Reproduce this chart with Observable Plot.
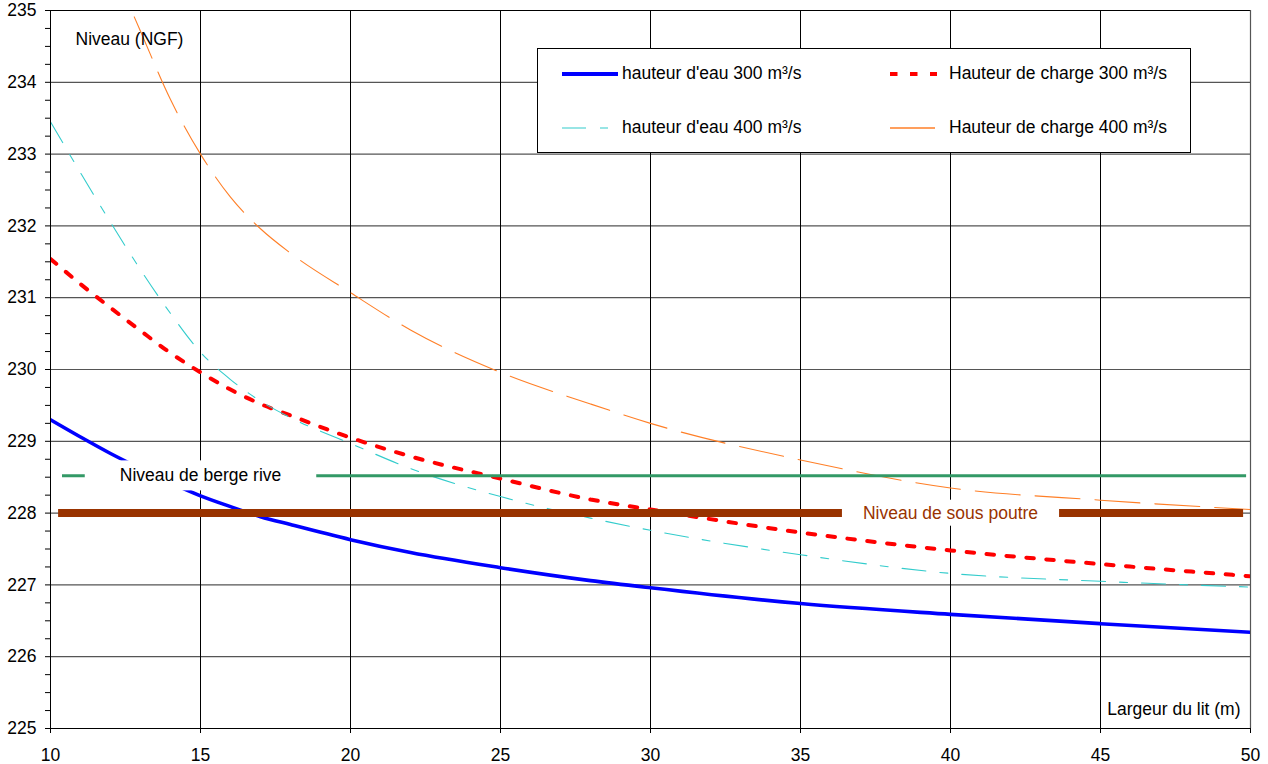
<!DOCTYPE html>
<html><head><meta charset="utf-8">
<script src="https://cdn.jsdelivr.net/npm/d3@7"></script>
<script src="https://cdn.jsdelivr.net/npm/@observablehq/plot@0.6"></script>
<style>
html,body{margin:0;padding:0;background:#fff;}
#wrap{position:relative;width:1268px;height:764px;font-family:"Liberation Sans",Arial,sans-serif;}
#legend{position:absolute;left:537px;top:48px;width:654px;height:105px;box-sizing:border-box;border:1px solid #000;background:#fff;}
#legend span{position:absolute;font-size:17.5px;line-height:21px;color:#000;white-space:nowrap;}
#legend svg{position:absolute;overflow:visible;}
</style></head>
<body><div id="wrap"><div id="legend"></div></div>
<script>
// ---- data ----
const widths    = [10, 11, 12, 13, 14, 15, 16, 17, 18, 20, 22, 25, 28, 30, 35, 40, 45, 50];
const eau300    = [229.30, 229.06, 228.83, 228.62, 228.42, 228.24, 228.09, 227.95, 227.84, 227.63, 227.45, 227.24, 227.06, 226.96, 226.74, 226.59, 226.46, 226.34];
const charge300 = [231.54, 231.19, 230.86, 230.54, 230.23, 229.96, 229.72, 229.52, 229.36, 229.05, 228.79, 228.48, 228.19, 228.05, 227.73, 227.48, 227.29, 227.12];
const eau400    = [233.45, 232.74, 232.05, 231.39, 230.78, 230.24, 229.86, 229.56, 229.33, 228.97, 228.62, 228.23, 227.93, 227.76, 227.42, 227.16, 227.05, 226.97];
const charge400 = [null, null, 235.68, 234.71, 233.76, 233.00, 232.40, 231.96, 231.62, 231.07, 230.55, 229.96, 229.52, 229.25, 228.74, 228.35, 228.18, 228.05];
const seriesNames = ["hauteur d'eau 300 m³/s", "Hauteur de charge 300 m³/s", "hauteur d'eau 400 m³/s", "Hauteur de charge 400 m³/s"];

const levelNames   = ["Niveau de berge rive", "Niveau de sous poutre"];
const levelValues  = [228.52, 228.0];
const levelFrom    = [10.4, 10.27];
const levelTo      = [49.87, 49.77];
const levelLabelAt = [15, 40];

const xTicks = [10, 15, 20, 25, 30, 35, 40, 45, 50];
const yTicks = [225, 226, 227, 228, 229, 230, 231, 232, 233, 234, 235];
const yMinorStep = 0.25;
const xTitle = "Largeur du lit (m)";
const yTitle = "Niveau (NGF)";

// ---- styles ----
const seriesStyles = [
  {stroke: "#0000ff", strokeWidth: 3.6, dash: null},
  {stroke: "#ff0000", strokeWidth: 4, dash: "7.5,12.5"},
  {stroke: "#33cccc", strokeWidth: 1.1, dash: "24,14,8,14"},
  {stroke: "#ff7f27", strokeWidth: 1.1, dash: "45,15"}
];
const levelStyles = [
  {stroke: "#339966", strokeWidth: 3, text: "#000000", padX: 35, padY: 5},
  {stroke: "#993300", strokeWidth: 8, text: "#993300", padX: 21, padY: 3}
];
const FONT = 17.5;

const seriesValues = [eau300, charge300, eau400, charge400];
const series = seriesNames.map((name, k) => ({
  name, ...seriesStyles[k],
  rows: widths.map((w, i) => ({w, v: seriesValues[k][i]})).filter(d => d.v != null)
}));
const levels = levelNames.map((name, i) => ({name, v: levelValues[i], from: levelFrom[i], to: levelTo[i], at: levelLabelAt[i], ...levelStyles[i]}));
const yMinor = d3.range(yTicks[0], yTicks[yTicks.length - 1] + 1e-9, yMinorStep);

const plot = Plot.plot({
  width: 1268, height: 764,
  marginLeft: 50, marginRight: 18, marginTop: 10, marginBottom: 36,
  style: {fontFamily: '"Liberation Sans", Arial, sans-serif', fontSize: FONT + "px", color: "#000", background: "#fff"},
  x: {domain: [xTicks[0], xTicks[xTicks.length - 1]], label: null},
  y: {domain: [yTicks[0], yTicks[yTicks.length - 1]], label: null},
  marks: [
    Plot.ruleY(yTicks.slice(1, -1), {stroke: "#555", strokeWidth: 1.2}),
    Plot.ruleY(yTicks.slice(-1), {stroke: "#000"}),
    Plot.ruleX(xTicks.slice(1, -1), {stroke: "#000"}),
    Plot.ruleX(xTicks.slice(-1), {stroke: "#555", strokeWidth: 1.2}),
    ...series.map(s => Plot.line(s.rows, {
      x: "w", y: "v", stroke: s.stroke, strokeWidth: s.strokeWidth,
      strokeDasharray: s.dash, curve: "monotone-x", clip: true
    })),
    ...levels.map(l => Plot.ruleY([l], {y: "v", x1: "from", x2: "to", stroke: l.stroke, strokeWidth: l.strokeWidth})),
    ...levels.map(l => Plot.text([l], {x: "at", y: "v", text: "name", fill: l.text, fontSize: FONT})),
    Plot.ruleX(xTicks.slice(0, 1), {stroke: "#000"}),
    Plot.ruleY(yTicks.slice(0, 1), {stroke: "#000"}),
    Plot.axisY(yMinor, {tickSize: 5, tickPadding: 9, fontSize: FONT, label: null,
      tickFormat: d => Number.isInteger(+d.toFixed(6)) ? String(Math.round(d)) : ""}),
    Plot.axisX(xTicks, {tickSize: 5, tickPadding: 15, fontSize: FONT, label: null}),
    Plot.text([yTitle], {frameAnchor: "top-left", textAnchor: "start", lineAnchor: "middle", dx: 25, dy: 29, fontSize: FONT}),
    Plot.text([xTitle], {frameAnchor: "bottom-right", textAnchor: "end", lineAnchor: "middle", dx: -10, dy: -19, fontSize: FONT})
  ]
});
const wrap = document.getElementById("wrap");
wrap.insertBefore(plot, wrap.firstChild);

// white boxes behind the level labels
plot.querySelectorAll("text").forEach(t => {
  const i = levelNames.indexOf(t.textContent);
  if (i < 0) return;
  const b = t.getBBox();
  const st = levelStyles[i];
  const r = document.createElementNS("http://www.w3.org/2000/svg", "rect");
  r.setAttribute("x", b.x - st.padX);
  r.setAttribute("y", b.y - st.padY);
  r.setAttribute("width", b.width + 2 * st.padX);
  r.setAttribute("height", b.height + 2 * st.padY);
  r.setAttribute("fill", "#fff");
  const tr = t.getAttribute("transform");
  if (tr) r.setAttribute("transform", tr);
  t.parentNode.insertBefore(r, t);
});

// legend
const legendEl = document.getElementById("legend");
const legendPos = [
  {sx: 24, sw: 56, tx: 84, cy: 25},
  {sx: 352, sw: 47, tx: 411, cy: 25},
  {sx: 24, sw: 47, tx: 84, cy: 79},
  {sx: 352, sw: 47, tx: 411, cy: 79}
];
series.forEach((s, k) => {
  const p = legendPos[k];
  const svg = d3.create("svg").attr("width", p.sw).attr("height", 10)
    .style("left", p.sx + "px").style("top", (p.cy - 5) + "px");
  svg.append("line").attr("x1", 0).attr("x2", p.sw).attr("y1", 5).attr("y2", 5)
    .attr("stroke", s.stroke).attr("stroke-width", k === 0 ? 4 : s.strokeWidth + (k === 3 ? 0.4 : 0))
    .attr("stroke-dasharray", s.dash);
  legendEl.appendChild(svg.node());
  const sp = document.createElement("span");
  sp.textContent = s.name;
  sp.style.left = p.tx + "px";
  sp.style.top = (p.cy - 11) + "px";
  legendEl.appendChild(sp);
});
</script>
</body></html>
